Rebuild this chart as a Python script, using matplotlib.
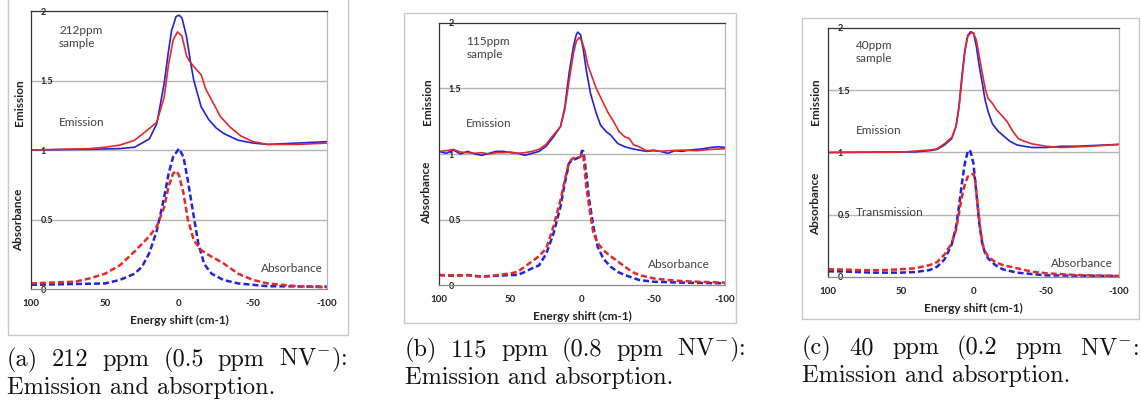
import numpy as np
import matplotlib.pyplot as plt
from matplotlib.patches import Rectangle

plt.rcParams['font.family'] = ['Lato', 'DejaVu Sans']
plt.rcParams['mathtext.fontset'] = 'cm'

W, H = 1141, 411
BLUE = '#2222dd'
RED = '#e6282a'
TXT = '#404040'

# ---- (a) 212 ppm ----
a_eb_x = [100, 60, 40, 30, 20, 15, 10, 7, 5, 2, 0, -2, -5, -8, -10, -15, -20, -25, -30, -40, -50, -60, -80, -100]
a_eb_y = [1.0, 1.005, 1.01, 1.02, 1.08, 1.19, 1.48, 1.72, 1.86, 1.96, 1.97, 1.95, 1.82, 1.62, 1.50, 1.31, 1.22, 1.16, 1.12, 1.07, 1.05, 1.04, 1.05, 1.06]
a_er_x = [100, 60, 50, 40, 30, 20, 15, 10, 7, 4, 1, -2, -5, -7, -10, -15, -18, -22, -28, -35, -42, -50, -60, -80, -100]
a_er_y = [1.0, 1.01, 1.02, 1.035, 1.07, 1.155, 1.20, 1.38, 1.62, 1.79, 1.85, 1.82, 1.68, 1.64, 1.60, 1.54, 1.44, 1.36, 1.24, 1.16, 1.10, 1.06, 1.04, 1.04, 1.05]
a_ab_x = [100, 50, 40, 30, 25, 20, 15, 10, 7, 4, 0, -3, -6, -10, -13, -17, -22, -30, -40, -60, -100]
a_ab_y = [0.03, 0.04, 0.065, 0.11, 0.16, 0.26, 0.42, 0.66, 0.83, 0.95, 1.01, 0.95, 0.78, 0.52, 0.33, 0.18, 0.11, 0.065, 0.04, 0.02, 0.017]
a_ar_x = [100, 70, 60, 50, 40, 30, 20, 15, 10, 7, 4, 2, 0, -3, -6, -10, -15, -20, -30, -40, -50, -60, -80, -100]
a_ar_y = [0.04, 0.053, 0.077, 0.11, 0.17, 0.27, 0.38, 0.45, 0.59, 0.74, 0.83, 0.85, 0.82, 0.69, 0.50, 0.35, 0.28, 0.245, 0.185, 0.11, 0.065, 0.04, 0.02, 0.012]

# ---- (b) 115 ppm ----
b_eb_x = [100, 95, 90, 85, 80, 75, 70, 65, 60, 55, 50, 45, 40, 35, 30, 25, 20, 15, 12, 9, 6, 4, 3, 1, -1, -3, -6, -10, -13, -17, -20, -25, -30, -35, -40, -45, -50, -55, -60, -65, -70, -75, -80, -85, -90, -95, -100]
b_eb_y = [1.02, 1.005, 1.03, 1.0, 1.02, 1.0, 0.99, 1.005, 1.02, 1.02, 1.01, 1.005, 0.99, 1.005, 1.02, 1.06, 1.13, 1.21, 1.36, 1.62, 1.82, 1.91, 1.93, 1.91, 1.79, 1.64, 1.46, 1.31, 1.22, 1.17, 1.145, 1.08, 1.055, 1.04, 1.03, 1.02, 1.025, 1.02, 1.005, 1.025, 1.02, 1.03, 1.035, 1.04, 1.05, 1.055, 1.05]
b_er_x = [100, 95, 90, 85, 80, 75, 70, 65, 60, 55, 50, 45, 40, 35, 30, 25, 20, 15, 12, 9, 6, 4, 2, 0, -2, -4, -7, -10, -14, -18, -22, -26, -30, -33, -36, -40, -45, -50, -55, -60, -70, -80, -90, -100]
b_er_y = [1.02, 1.025, 1.035, 1.015, 1.01, 1.005, 1.01, 1.0, 1.01, 1.01, 1.015, 1.005, 1.01, 1.02, 1.035, 1.075, 1.145, 1.21, 1.34, 1.56, 1.77, 1.86, 1.89, 1.86, 1.79, 1.68, 1.59, 1.50, 1.41, 1.32, 1.25, 1.17, 1.13, 1.12, 1.07, 1.055, 1.025, 1.03, 1.02, 1.025, 1.03, 1.025, 1.035, 1.04]
b_ab_x = [100, 90, 80, 70, 60, 50, 45, 40, 35, 30, 25, 20, 15, 12, 9, 7, 5, 3, 1, 0, -1, -3, -5, -8, -11, -15, -20, -25, -30, -40, -50, -70, -100]
b_ab_y = [0.076, 0.07, 0.076, 0.064, 0.07, 0.076, 0.076, 0.10, 0.127, 0.15, 0.24, 0.39, 0.60, 0.78, 0.93, 0.955, 0.96, 0.97, 0.98, 1.025, 1.02, 0.85, 0.65, 0.445, 0.29, 0.20, 0.14, 0.10, 0.076, 0.038, 0.025, 0.018, 0.013]
b_ar_x = [100, 90, 80, 70, 60, 50, 45, 40, 35, 30, 25, 20, 15, 12, 9, 6, 3, 1, 0, -1, -3, -5, -8, -12, -16, -20, -25, -30, -35, -40, -50, -60, -70, -80, -100]
b_ar_y = [0.076, 0.074, 0.074, 0.064, 0.074, 0.089, 0.10, 0.14, 0.18, 0.22, 0.28, 0.445, 0.65, 0.80, 0.94, 0.97, 0.97, 0.98, 1.005, 0.98, 0.75, 0.60, 0.39, 0.305, 0.255, 0.22, 0.18, 0.14, 0.10, 0.076, 0.05, 0.038, 0.03, 0.025, 0.018]

# ---- (c) 40 ppm ----
c_eb_x = [100, 50, 40, 30, 25, 20, 15, 12, 10, 8, 6, 4, 2, 0, -2, -4, -6, -8, -10, -13, -17, -20, -25, -30, -40, -50, -60, -70, -80, -90, -100]
c_eb_y = [1.0, 1.005, 1.005, 1.015, 1.025, 1.06, 1.11, 1.21, 1.37, 1.61, 1.82, 1.94, 1.97, 1.96, 1.85, 1.69, 1.56, 1.42, 1.33, 1.23, 1.17, 1.14, 1.09, 1.06, 1.04, 1.04, 1.05, 1.05, 1.055, 1.06, 1.065]
c_er_x = [100, 50, 30, 25, 20, 15, 12, 10, 8, 6, 4, 2, 0, -2, -4, -6, -8, -10, -13, -16, -20, -23, -27, -31, -35, -40, -50, -60, -80, -100]
c_er_y = [1.0, 1.003, 1.02, 1.03, 1.07, 1.12, 1.21, 1.355, 1.58, 1.80, 1.93, 1.96, 1.96, 1.90, 1.77, 1.64, 1.515, 1.435, 1.395, 1.34, 1.29, 1.25, 1.17, 1.11, 1.09, 1.07, 1.05, 1.04, 1.05, 1.065]
c_ab_x = [100, 90, 70, 50, 40, 30, 25, 20, 15, 12, 10, 8, 6, 4, 3, 2, 0, -2, -4, -6, -8, -10, -15, -20, -30, -40, -50, -70, -100]
c_ab_y = [0.045, 0.045, 0.035, 0.035, 0.04, 0.056, 0.083, 0.14, 0.26, 0.40, 0.565, 0.75, 0.91, 1.005, 1.02, 1.005, 0.91, 0.67, 0.43, 0.27, 0.19, 0.15, 0.096, 0.062, 0.035, 0.024, 0.013, 0.011, 0.008]
c_ar_x = [100, 90, 80, 70, 60, 50, 40, 30, 25, 20, 15, 12, 10, 8, 6, 4, 2, 0, -1, -3, -5, -7, -10, -15, -20, -25, -30, -40, -50, -70, -100]
c_ar_y = [0.062, 0.06, 0.056, 0.054, 0.056, 0.062, 0.07, 0.096, 0.12, 0.18, 0.27, 0.38, 0.51, 0.645, 0.74, 0.805, 0.82, 0.83, 0.79, 0.565, 0.35, 0.23, 0.163, 0.12, 0.096, 0.083, 0.07, 0.043, 0.03, 0.016, 0.008]

x_ticks = [100, 50, 0, -50, -100]
y_ticks = [0, 0.5, 1, 1.5, 2]
y_labels = ['0', '0.5', '1', '1.5', '2']

captions = [
    (["(a)", "212", "ppm", "(0.5", "ppm", r"NV$^{-}$):"], "Emission and absorption."),
    (["(b)", "115", "ppm", "(0.8", "ppm", r"NV$^{-}$):"], "Emission and absorption."),
    (["(c)", "40", "ppm", "(0.2", "ppm", r"NV$^{-}$:"], "Emission and absorption."),
]

panels = [
    dict(box=(8, -2, 348, 335), ax=(31, 11, 327, 289),
         em=[(a_eb_x, a_eb_y, BLUE), (a_er_x, a_er_y, RED)],
         ab=[(a_ab_x, a_ab_y, BLUE), (a_ar_x, a_ar_y, RED)],
         sample="212ppm\nsample", em_lab_y=1.34, ab_lab_y=0.5, em_txt_y=1.20,
         abs_txt=(-97, 0.15), trans=None, cap=(7, 347, 360)),
    dict(box=(404, 13, 736, 323), ax=(439, 23, 725, 285),
         em=[(b_eb_x, b_eb_y, BLUE), (b_er_x, b_er_y, RED)],
         ab=[(b_ab_x, b_ab_y, BLUE), (b_ar_x, b_ar_y, RED)],
         sample="115ppm\nsample", em_lab_y=1.40, ab_lab_y=0.70, em_txt_y=1.23,
         abs_txt=(-89.5, 0.16), trans=None, cap=(405, 745, 350)),
    dict(box=(802, 18, 1139, 319), ax=(828, 28, 1119, 277),
         em=[(c_eb_x, c_eb_y, BLUE), (c_er_x, c_er_y, RED)],
         ab=[(c_ab_x, c_ab_y, BLUE), (c_ar_x, c_ar_y, RED)],
         sample="40ppm\nsample", em_lab_y=1.41, ab_lab_y=0.59, em_txt_y=1.18,
         abs_txt=(-96, 0.11), trans=0.52, cap=(802, 1139, 348)),
]

fig = plt.figure(figsize=(W / 100, H / 100), dpi=100)
fig.patch.set_facecolor('white')


def fig_rect(l, t, r, b):
    return [l / W, 1 - b / H, (r - l) / W, (b - t) / H]


for p, cap in zip(panels, captions):
    bl, bt, br, bb = p['box']
    fig.add_artist(Rectangle((bl / W, 1 - bb / H), (br - bl) / W, (bb - bt) / H,
                             transform=fig.transFigure, fill=False,
                             ec='#c8c8c8', lw=1.0))
    l, t, r, b = p['ax']
    ax = fig.add_axes(fig_rect(l, t, r, b))
    ax.set_xlim(100, -100)
    ax.set_ylim(0, 2)
    for yy in [0.5, 1, 1.5]:
        ax.axhline(yy, color='#b5b5b5', lw=1.0, zorder=0)
    for xs, ys, c in p['em']:
        ax.plot(xs, ys, color=c, lw=1.2)
    for xs, ys, c in p['ab']:
        ax.plot(xs, ys, color=c, lw=1.8, ls=(0, (2.4, 1.2)))

    ax.set_xticks(x_ticks)
    ax.set_xticklabels([str(v) for v in x_ticks], fontweight='bold')
    ax.set_yticks(y_ticks)
    ax.set_yticklabels(y_labels, fontweight='bold')
    ax.tick_params(axis='x', length=0, pad=7, labelsize=7, labelcolor='#222222')
    ax.tick_params(axis='y', length=0, pad=-7, labelsize=6.5, labelcolor='#222222')
    for lbl in ax.get_yticklabels():
        lbl.set_horizontalalignment('left')
    ax.spines['left'].set_color('#333333')
    ax.spines['top'].set_color('#333333')
    ax.spines['bottom'].set_color('#8a8a8a')
    ax.spines['right'].set_color('#b5b5b5')
    for s in ax.spines.values():
        s.set_linewidth(0.9)

    ax.set_xlabel('Energy shift (cm-1)', fontsize=8.5, fontweight='bold',
                  color='#222222', labelpad=5)
    xf = -12 / (r - l)
    tr = ax.get_yaxis_transform()
    ax.text(xf, p['em_lab_y'], 'Emission', transform=tr, rotation=90,
            ha='center', va='center', fontsize=8.5, fontweight='bold', color='#222222')
    ax.text(xf, p['ab_lab_y'], 'Absorbance', transform=tr, rotation=90,
            ha='center', va='center', fontsize=8.5, fontweight='bold', color='#222222')

    ax.text(81, 1.90, p['sample'], ha='left', va='top', fontsize=8.5,
            color=TXT, linespacing=1.2)
    ax.text(81, p['em_txt_y'], 'Emission', ha='left', va='center',
            fontsize=8.5, color=TXT)
    if p['trans'] is not None:
        ax.text(81, p['trans'], 'Transmission', ha='left', va='center',
                fontsize=8.5, color=TXT)
    ax.text(p['abs_txt'][0], p['abs_txt'][1], 'Absorbance', ha='right',
            va='center', fontsize=8.5, color=TXT)

# captions, first line justified like the LaTeX subcaptions
renderer = fig.canvas.get_renderer()
cap_kw = dict(fontfamily='cmr10', fontsize=17.5, color='#111111', va='center')
for p, (words, line2) in zip(panels, captions):
    x0, x1, yc = p['cap']
    texts = [fig.text(0, 1 - yc / H, w, **cap_kw) for w in words]
    widths = [tx.get_window_extent(renderer).width for tx in texts]
    gap = (x1 - x0 - sum(widths)) / (len(words) - 1)
    x = x0
    for tx, wd in zip(texts, widths):
        tx.set_x(x / W)
        x += wd + gap
    fig.text(x0 / W, 1 - (yc + 28) / H, line2, **cap_kw)

fig.savefig('out.png', dpi=100)
